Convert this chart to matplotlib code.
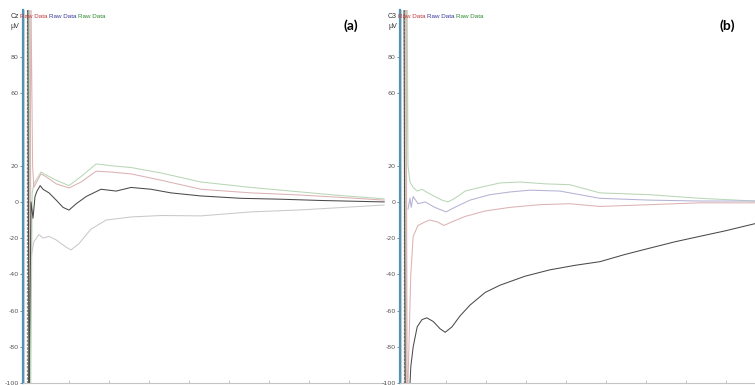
"""Averaged evoked traces for two electrode sites, shown side by side."""

import matplotlib

matplotlib.use("Agg")

import matplotlib.pyplot as plt  # noqa: E402

# time in ms after stimulus, amplitude in microvolts

# (a) Cz
cz_upper_t = [0, 4, 8, 12, 30, 42, 68, 100, 130, 168, 205, 255, 330, 430, 555, 680, 780, 888]
cz_upper_v = [110, -110, 5, 10, 16.5, 15, 12, 9, 14, 21, 20, 19, 16, 11, 8, 5.5, 3.5, 1.7]

cz_mid_t = [0, 5, 9, 12, 30, 42, 68, 100, 130, 168, 205, 255, 330, 430, 555, 680, 780, 888]
cz_mid_v = [-110, 110, 20, 8, 15.5, 14, 10, 7.7, 11, 17, 16.5, 15.5, 12, 7, 5, 3.8, 2.5, 1]

cz_avg_t = [-3, 0, 5, 10, 15, 20, 28, 35, 50, 68, 85, 100, 118, 143, 180, 218, 255, 305, 355, 430, 530, 630, 730, 888]
cz_avg_v = [110, -110, 0, -9, 3, 6, 9, 7, 5, 1, -3, -4.5, -1, 3, 7, 6, 8, 7, 5, 3.3, 2, 1.5, 0.8, 0]

cz_lower_t = [2, 5, 12, 25, 35, 50, 68, 93, 105, 125, 155, 193, 255, 330, 430, 555, 680, 888]
cz_lower_v = [110, -31, -22, -18, -20, -19, -21, -25, -26.5, -23, -15, -10, -8.3, -7.5, -7.7, -5.5, -4.4, -1.7]

# (b) C3
c3_avg_t = [-5, -2, 8, 12, 18, 28, 40, 52, 68, 85, 98, 115, 135, 160, 198, 235, 298, 360,
            423, 485, 548, 610, 673, 735, 798, 873]
c3_avg_v = [110, -110, -110, -91, -80, -69, -65, -64, -66, -70, -72, -69, -63, -57, -50, -46, -41, -37.5,
            -35, -33, -29, -25.5, -22, -19, -16, -12]

c3_upper_t = [-1, 3, 5, 10, 18, 28, 40, 55, 72, 90, 105, 122, 148, 185, 235, 285, 348, 410, 485, 610, 735, 873]
c3_upper_v = [-110, 110, 20, 11, 8, 6, 7, 5, 3, 1, 0, 2, 6, 8, 10.5, 11, 10, 9.5, 5, 4, 2, 0.5]

c3_mid_t = [5, 10, 13, 18, 30, 48, 72, 100, 122, 160, 210, 260, 310, 385, 485, 610, 735, 873]
c3_mid_v = [-4, 2, -3, 3, -1, 0, -3, -5.5, -3, 1, 4, 5.5, 6.5, 6, 2, 1, 0.5, 0.5]

c3_low_t = [0, 3, 5, 12, 18, 30, 48, 60, 78, 95, 115, 148, 198, 260, 335, 410, 485, 610, 735, 873]
c3_low_v = [110, -110, -100, -40, -19, -13, -11, -10, -11, -13, -11, -8, -5, -3, -1.5, -1, -2.5, -1.5, -0.5, -0.5]

y_ticks = [80, 60, 20, 0, -20, -40, -60, -80, -100]
x_ticks = [100, 200, 300, 400, 500, 600, 700, 800]

W, H = 755, 385
fig = plt.figure(figsize=(W / 100, H / 100), dpi=100)
fig.patch.set_facecolor("white")

GREEN = "#b9d6b6"
PINK = "#dcb2b4"
DARK = "#4a4a4a"
GRAY = "#c9c9c9"
LAVENDER = "#b4b2d4"
SPINE_BLUE = "#4f94b8"


def _px_axes(left, right, bottom=383, top=10):
    return fig.add_axes([left / W, 1 - bottom / H, (right - left) / W, (bottom - top) / H])


def _style(ax, xmax):
    ax.set_xlim(-15, xmax)
    ax.set_ylim(-100, 106)
    for side in ("top", "right"):
        ax.spines[side].set_visible(False)
    ax.spines["left"].set_color(SPINE_BLUE)
    ax.spines["left"].set_linewidth(1.6)
    ax.spines["bottom"].set_color("#c4c4c4")
    ax.spines["bottom"].set_linewidth(0.8)
    ax.set_yticks(y_ticks)
    ax.set_yticklabels([str(v) for v in y_ticks])
    ax.set_xticks(x_ticks)
    ax.set_xticklabels([])
    ax.tick_params(axis="y", length=2.5, width=0.6, color="#777777", pad=0.5,
                   labelsize=4.6, labelcolor="#555555")
    ax.tick_params(axis="x", direction="in", length=2, width=0.6, color="#bbbbbb")
    # second, lighter rule beside the coloured axis line
    ax.axvline(-12, color="#d6d6d6", linewidth=0.8)
    # stimulus artefact column
    ax.axvline(-4, color="#8a8a8a", linewidth=0.9, linestyle=(0, (2, 1)))
    ax.axvline(1, color="#d4cfbf", linewidth=1.4)


lw = 0.75

ax1 = _px_axes(23, 385)
_style(ax1, 890)
ax1.plot(cz_lower_t, cz_lower_v, color=GRAY, linewidth=lw)
ax1.plot(cz_upper_t, cz_upper_v, color=GREEN, linewidth=lw)
ax1.plot(cz_mid_t, cz_mid_v, color=PINK, linewidth=lw)
ax1.plot(cz_avg_t, cz_avg_v, color=DARK, linewidth=lw)

ax2 = _px_axes(400, 755)
_style(ax2, 873)
ax2.plot(c3_upper_t, c3_upper_v, color=GREEN, linewidth=lw)
ax2.plot(c3_mid_t, c3_mid_v, color=LAVENDER, linewidth=lw)
ax2.plot(c3_low_t, c3_low_v, color=PINK, linewidth=lw)
ax2.plot(c3_avg_t, c3_avg_v, color=DARK, linewidth=lw)


def _label(x, y, s, color, size=4.5, weight="normal", family="Liberation Sans", ha="left"):
    fig.text(x / W, 1 - y / H, s, color=color, fontsize=size, fontweight=weight,
             family=family, ha=ha, va="center")


for x0, name in ((19, "Cz"), (397, "C3")):
    _label(x0, 17, name, "#333333", size=5, ha="right")
    _label(x0, 26, "µV", "#333333", size=5, ha="right")
    _label(x0 + 1, 17, "Raw Data", "#c0393b")
    _label(x0 + 30, 17, "Raw Data", "#3a3a9a")
    _label(x0 + 59, 17, "Raw Data", "#2e8b2e")

_label(351, 26, "(a)", "black", size=10, weight="bold", family="Lato", ha="center")
_label(727, 26, "(b)", "black", size=10, weight="bold", family="Lato", ha="center")

fig.savefig("out.png", dpi=100, facecolor="white")
